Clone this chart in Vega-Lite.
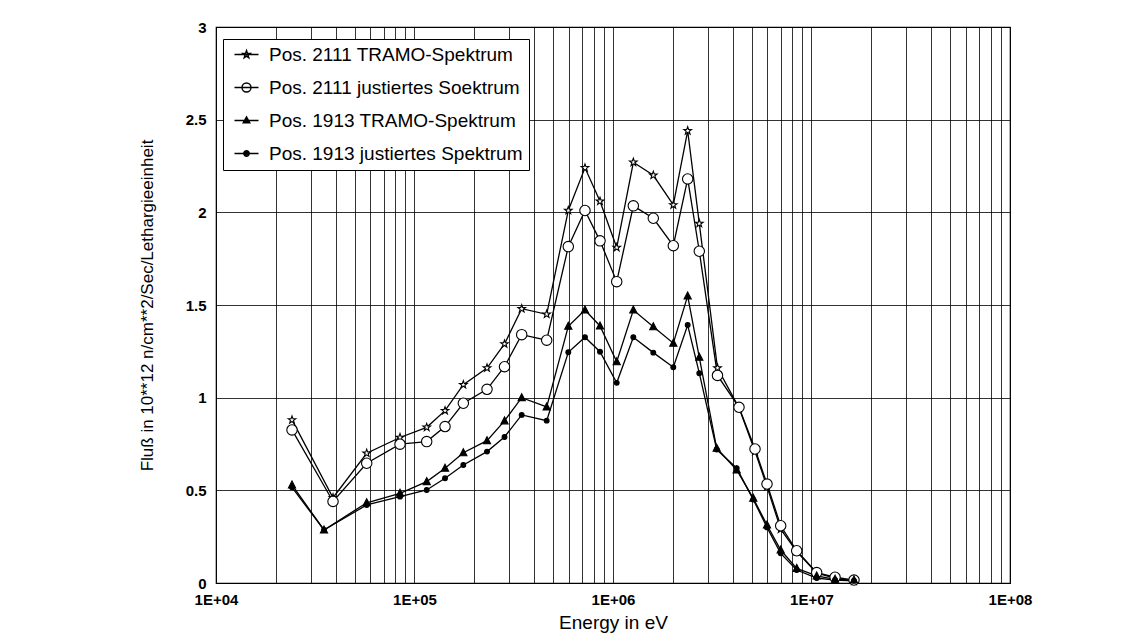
{
  "$schema": "https://vega.github.io/schema/vega-lite/v6.json",
  "width": 794,
  "height": 556,
  "autosize": {"type": "none"},
  "padding": {"left": 216, "top": 27, "right": 135, "bottom": 61},
  "background": "white",
  "config": {
    "font": "Liberation Sans",
    "view": {"stroke": "black", "strokeWidth": 1.2},
    "axis": {
      "gridColor": "#000",
      "gridOpacity": 0.8,
      "gridWidth": 1,
      "domain": false,
      "ticks": false,
      "labelColor": "#000",
      "titleColor": "#000",
      "labelFont": "Liberation Sans",
      "labelFontWeight": "bold",
      "labelFontSize": 15,
      "titleFont": "Liberation Sans",
      "titleFontWeight": "normal"
    },
    "legend": {
      "orient": "none",
      "legendX": 7,
      "legendY": 12,
      "fillColor": "white",
      "strokeColor": "black",
      "padding": 6,
      "symbolOffset": 8,
      "labelFont": "Liberation Sans",
      "labelFontSize": 19,
      "labelColor": "black",
      "rowPadding": 13,
      "labelOffset": 13,
      "labelLimit": 0,
      "symbolSize": 36,
      "symbolStrokeWidth": 1.4,
      "symbolStrokeColor": "black"
    }
  },
  "datasets": {
    "pts": [
      {"Serie": "Pos. 2111 TRAMO-Spektrum", "E": 24150, "Fluss": 0.88},
      {"Serie": "Pos. 2111 TRAMO-Spektrum", "E": 38860, "Fluss": 0.46},
      {"Serie": "Pos. 2111 TRAMO-Spektrum", "E": 57440, "Fluss": 0.70},
      {"Serie": "Pos. 2111 TRAMO-Spektrum", "E": 84530, "Fluss": 0.785},
      {"Serie": "Pos. 2111 TRAMO-Spektrum", "E": 115200, "Fluss": 0.84},
      {"Serie": "Pos. 2111 TRAMO-Spektrum", "E": 142500, "Fluss": 0.93},
      {"Serie": "Pos. 2111 TRAMO-Spektrum", "E": 176200, "Fluss": 1.07},
      {"Serie": "Pos. 2111 TRAMO-Spektrum", "E": 231900, "Fluss": 1.16},
      {"Serie": "Pos. 2111 TRAMO-Spektrum", "E": 284100, "Fluss": 1.29},
      {"Serie": "Pos. 2111 TRAMO-Spektrum", "E": 346800, "Fluss": 1.48},
      {"Serie": "Pos. 2111 TRAMO-Spektrum", "E": 463400, "Fluss": 1.45},
      {"Serie": "Pos. 2111 TRAMO-Spektrum", "E": 595400, "Fluss": 2.01},
      {"Serie": "Pos. 2111 TRAMO-Spektrum", "E": 722500, "Fluss": 2.24},
      {"Serie": "Pos. 2111 TRAMO-Spektrum", "E": 860100, "Fluss": 2.06},
      {"Serie": "Pos. 2111 TRAMO-Spektrum", "E": 1044000, "Fluss": 1.81},
      {"Serie": "Pos. 2111 TRAMO-Spektrum", "E": 1266000, "Fluss": 2.27},
      {"Serie": "Pos. 2111 TRAMO-Spektrum", "E": 1596000, "Fluss": 2.20},
      {"Serie": "Pos. 2111 TRAMO-Spektrum", "E": 2013000, "Fluss": 2.04},
      {"Serie": "Pos. 2111 TRAMO-Spektrum", "E": 2378000, "Fluss": 2.44},
      {"Serie": "Pos. 2111 TRAMO-Spektrum", "E": 2721000, "Fluss": 1.94},
      {"Serie": "Pos. 2111 TRAMO-Spektrum", "E": 3360000, "Fluss": 1.16},
      {"Serie": "Pos. 2111 TRAMO-Spektrum", "E": 4313000, "Fluss": 0.945},
      {"Serie": "Pos. 2111 TRAMO-Spektrum", "E": 5193000, "Fluss": 0.71},
      {"Serie": "Pos. 2111 TRAMO-Spektrum", "E": 5969000, "Fluss": 0.52},
      {"Serie": "Pos. 2111 TRAMO-Spektrum", "E": 6995000, "Fluss": 0.29},
      {"Serie": "Pos. 2111 TRAMO-Spektrum", "E": 8423000, "Fluss": 0.17},
      {"Serie": "Pos. 2111 TRAMO-Spektrum", "E": 10620000, "Fluss": 0.055},
      {"Serie": "Pos. 2111 TRAMO-Spektrum", "E": 13140000, "Fluss": 0.025},
      {"Serie": "Pos. 2111 TRAMO-Spektrum", "E": 16370000, "Fluss": 0.01},

      {"Serie": "Pos. 2111 justiertes Soektrum", "E": 24150, "Fluss": 0.826},
      {"Serie": "Pos. 2111 justiertes Soektrum", "E": 38860, "Fluss": 0.44},
      {"Serie": "Pos. 2111 justiertes Soektrum", "E": 57440, "Fluss": 0.646},
      {"Serie": "Pos. 2111 justiertes Soektrum", "E": 84530, "Fluss": 0.749},
      {"Serie": "Pos. 2111 justiertes Soektrum", "E": 115200, "Fluss": 0.763},
      {"Serie": "Pos. 2111 justiertes Soektrum", "E": 142500, "Fluss": 0.844},
      {"Serie": "Pos. 2111 justiertes Soektrum", "E": 176200, "Fluss": 0.97},
      {"Serie": "Pos. 2111 justiertes Soektrum", "E": 231900, "Fluss": 1.045},
      {"Serie": "Pos. 2111 justiertes Soektrum", "E": 284100, "Fluss": 1.167},
      {"Serie": "Pos. 2111 justiertes Soektrum", "E": 346800, "Fluss": 1.34},
      {"Serie": "Pos. 2111 justiertes Soektrum", "E": 463400, "Fluss": 1.31},
      {"Serie": "Pos. 2111 justiertes Soektrum", "E": 595400, "Fluss": 1.815},
      {"Serie": "Pos. 2111 justiertes Soektrum", "E": 722500, "Fluss": 2.01},
      {"Serie": "Pos. 2111 justiertes Soektrum", "E": 860100, "Fluss": 1.846},
      {"Serie": "Pos. 2111 justiertes Soektrum", "E": 1044000, "Fluss": 1.626},
      {"Serie": "Pos. 2111 justiertes Soektrum", "E": 1266000, "Fluss": 2.035},
      {"Serie": "Pos. 2111 justiertes Soektrum", "E": 1596000, "Fluss": 1.968},
      {"Serie": "Pos. 2111 justiertes Soektrum", "E": 2013000, "Fluss": 1.82},
      {"Serie": "Pos. 2111 justiertes Soektrum", "E": 2378000, "Fluss": 2.18},
      {"Serie": "Pos. 2111 justiertes Soektrum", "E": 2721000, "Fluss": 1.79},
      {"Serie": "Pos. 2111 justiertes Soektrum", "E": 3360000, "Fluss": 1.12},
      {"Serie": "Pos. 2111 justiertes Soektrum", "E": 4313000, "Fluss": 0.948},
      {"Serie": "Pos. 2111 justiertes Soektrum", "E": 5193000, "Fluss": 0.723},
      {"Serie": "Pos. 2111 justiertes Soektrum", "E": 5969000, "Fluss": 0.534},
      {"Serie": "Pos. 2111 justiertes Soektrum", "E": 6995000, "Fluss": 0.309},
      {"Serie": "Pos. 2111 justiertes Soektrum", "E": 8423000, "Fluss": 0.174},
      {"Serie": "Pos. 2111 justiertes Soektrum", "E": 10620000, "Fluss": 0.056},
      {"Serie": "Pos. 2111 justiertes Soektrum", "E": 13140000, "Fluss": 0.031},
      {"Serie": "Pos. 2111 justiertes Soektrum", "E": 16370000, "Fluss": 0.016},

      {"Serie": "Pos. 1913 TRAMO-Spektrum", "E": 24150, "Fluss": 0.529},
      {"Serie": "Pos. 1913 TRAMO-Spektrum", "E": 35000, "Fluss": 0.286},
      {"Serie": "Pos. 1913 TRAMO-Spektrum", "E": 57440, "Fluss": 0.433},
      {"Serie": "Pos. 1913 TRAMO-Spektrum", "E": 84530, "Fluss": 0.484},
      {"Serie": "Pos. 1913 TRAMO-Spektrum", "E": 115200, "Fluss": 0.547},
      {"Serie": "Pos. 1913 TRAMO-Spektrum", "E": 142500, "Fluss": 0.619},
      {"Serie": "Pos. 1913 TRAMO-Spektrum", "E": 176200, "Fluss": 0.703},
      {"Serie": "Pos. 1913 TRAMO-Spektrum", "E": 231900, "Fluss": 0.768},
      {"Serie": "Pos. 1913 TRAMO-Spektrum", "E": 284100, "Fluss": 0.875},
      {"Serie": "Pos. 1913 TRAMO-Spektrum", "E": 346800, "Fluss": 1.0},
      {"Serie": "Pos. 1913 TRAMO-Spektrum", "E": 463400, "Fluss": 0.95},
      {"Serie": "Pos. 1913 TRAMO-Spektrum", "E": 595400, "Fluss": 1.385},
      {"Serie": "Pos. 1913 TRAMO-Spektrum", "E": 722500, "Fluss": 1.473},
      {"Serie": "Pos. 1913 TRAMO-Spektrum", "E": 860100, "Fluss": 1.387},
      {"Serie": "Pos. 1913 TRAMO-Spektrum", "E": 1044000, "Fluss": 1.194},
      {"Serie": "Pos. 1913 TRAMO-Spektrum", "E": 1266000, "Fluss": 1.473},
      {"Serie": "Pos. 1913 TRAMO-Spektrum", "E": 1596000, "Fluss": 1.383},
      {"Serie": "Pos. 1913 TRAMO-Spektrum", "E": 2013000, "Fluss": 1.294},
      {"Serie": "Pos. 1913 TRAMO-Spektrum", "E": 2378000, "Fluss": 1.549},
      {"Serie": "Pos. 1913 TRAMO-Spektrum", "E": 2721000, "Fluss": 1.218},
      {"Serie": "Pos. 1913 TRAMO-Spektrum", "E": 3330000, "Fluss": 0.727},
      {"Serie": "Pos. 1913 TRAMO-Spektrum", "E": 4200000, "Fluss": 0.61},
      {"Serie": "Pos. 1913 TRAMO-Spektrum", "E": 5090000, "Fluss": 0.457},
      {"Serie": "Pos. 1913 TRAMO-Spektrum", "E": 5969000, "Fluss": 0.313},
      {"Serie": "Pos. 1913 TRAMO-Spektrum", "E": 6995000, "Fluss": 0.178},
      {"Serie": "Pos. 1913 TRAMO-Spektrum", "E": 8423000, "Fluss": 0.079},
      {"Serie": "Pos. 1913 TRAMO-Spektrum", "E": 10620000, "Fluss": 0.038},
      {"Serie": "Pos. 1913 TRAMO-Spektrum", "E": 13140000, "Fluss": 0.02},
      {"Serie": "Pos. 1913 TRAMO-Spektrum", "E": 16370000, "Fluss": 0.016},

      {"Serie": "Pos. 1913 justiertes Spektrum", "E": 24150, "Fluss": 0.516},
      {"Serie": "Pos. 1913 justiertes Spektrum", "E": 35000, "Fluss": 0.286},
      {"Serie": "Pos. 1913 justiertes Spektrum", "E": 57440, "Fluss": 0.421},
      {"Serie": "Pos. 1913 justiertes Spektrum", "E": 84530, "Fluss": 0.466},
      {"Serie": "Pos. 1913 justiertes Spektrum", "E": 115200, "Fluss": 0.502},
      {"Serie": "Pos. 1913 justiertes Spektrum", "E": 142500, "Fluss": 0.565},
      {"Serie": "Pos. 1913 justiertes Spektrum", "E": 176200, "Fluss": 0.637},
      {"Serie": "Pos. 1913 justiertes Spektrum", "E": 231900, "Fluss": 0.709},
      {"Serie": "Pos. 1913 justiertes Spektrum", "E": 284100, "Fluss": 0.788},
      {"Serie": "Pos. 1913 justiertes Spektrum", "E": 346800, "Fluss": 0.907},
      {"Serie": "Pos. 1913 justiertes Spektrum", "E": 463400, "Fluss": 0.876},
      {"Serie": "Pos. 1913 justiertes Spektrum", "E": 595400, "Fluss": 1.245},
      {"Serie": "Pos. 1913 justiertes Spektrum", "E": 722500, "Fluss": 1.326},
      {"Serie": "Pos. 1913 justiertes Spektrum", "E": 860100, "Fluss": 1.248},
      {"Serie": "Pos. 1913 justiertes Spektrum", "E": 1044000, "Fluss": 1.08},
      {"Serie": "Pos. 1913 justiertes Spektrum", "E": 1266000, "Fluss": 1.326},
      {"Serie": "Pos. 1913 justiertes Spektrum", "E": 1596000, "Fluss": 1.243},
      {"Serie": "Pos. 1913 justiertes Spektrum", "E": 2013000, "Fluss": 1.164},
      {"Serie": "Pos. 1913 justiertes Spektrum", "E": 2378000, "Fluss": 1.392},
      {"Serie": "Pos. 1913 justiertes Spektrum", "E": 2721000, "Fluss": 1.132},
      {"Serie": "Pos. 1913 justiertes Spektrum", "E": 3330000, "Fluss": 0.72},
      {"Serie": "Pos. 1913 justiertes Spektrum", "E": 4200000, "Fluss": 0.62},
      {"Serie": "Pos. 1913 justiertes Spektrum", "E": 5090000, "Fluss": 0.45},
      {"Serie": "Pos. 1913 justiertes Spektrum", "E": 5969000, "Fluss": 0.30},
      {"Serie": "Pos. 1913 justiertes Spektrum", "E": 6995000, "Fluss": 0.16},
      {"Serie": "Pos. 1913 justiertes Spektrum", "E": 8423000, "Fluss": 0.07},
      {"Serie": "Pos. 1913 justiertes Spektrum", "E": 10620000, "Fluss": 0.027},
      {"Serie": "Pos. 1913 justiertes Spektrum", "E": 13140000, "Fluss": 0.016},
      {"Serie": "Pos. 1913 justiertes Spektrum", "E": 16370000, "Fluss": 0.012}
    ]
  },
  "data": {"name": "pts"},
  "encoding": {
    "x": {
      "field": "E",
      "type": "quantitative",
      "scale": {"type": "log", "domain": [10000, 100000000]},
      "axis": {
        "values": [10000, 20000, 30000, 40000, 50000, 60000, 70000, 80000, 90000,
                   100000, 200000, 300000, 400000, 500000, 600000, 700000, 800000, 900000,
                   1000000, 2000000, 3000000, 4000000, 5000000, 6000000, 7000000, 8000000, 9000000,
                   10000000, 20000000, 30000000, 40000000, 50000000, 60000000, 70000000, 80000000, 90000000,
                   100000000],
        "labelExpr": "abs(log(datum.value)/LN10 - round(log(datum.value)/LN10)) < 0.001 ? '1E+0' + round(log(datum.value)/LN10) : ''",
        "labelOverlap": false,
        "labelFlush": false,
        "labelPadding": 9,
        "title": "Energy in eV",
        "titleFontSize": 19,
        "titlePadding": 6
      }
    },
    "y": {
      "field": "Fluss",
      "type": "quantitative",
      "scale": {"domain": [0, 3]},
      "axis": {
        "values": [0, 0.5, 1, 1.5, 2, 2.5, 3],
        "format": "~g",
        "labelOverlap": false,
        "labelFlush": false,
        "labelPadding": 10,
        "title": "Fluß in 10**12 n/cm**2/Sec/Lethargieeinheit",
        "titleFontSize": 17,
        "titlePadding": 29
      }
    }
  },
  "layer": [
    {
      "mark": {"type": "line", "color": "black", "strokeWidth": 1.3},
      "encoding": {"detail": {"field": "Serie", "type": "nominal"}}
    },
    {
      "mark": {"type": "point", "filled": true, "stroke": "black", "strokeWidth": 1.1, "opacity": 1, "size": 64},
      "encoding": {
        "shape": {
          "field": "Serie", "type": "nominal", "legend": null,
          "scale": {
            "domain": ["Pos. 2111 TRAMO-Spektrum", "Pos. 2111 justiertes Soektrum", "Pos. 1913 TRAMO-Spektrum", "Pos. 1913 justiertes Spektrum"],
            "range": [
              "M0,-1L0.235,-0.324L0.951,-0.309L0.38,0.124L0.588,0.809L0,0.4L-0.588,0.809L-0.38,0.124L-0.951,-0.309L-0.235,-0.324Z",
              "M-1.3,0A1.3,1.3,0,1,1,1.3,0A1.3,1.3,0,1,1,-1.3,0Z",
              "M0,-1L0.9,0.75L-0.9,0.75Z",
              "M-0.6,0A0.6,0.6,0,1,1,0.6,0A0.6,0.6,0,1,1,-0.6,0Z"
            ]
          }
        },
        "fill": {
          "field": "Serie", "type": "nominal", "legend": null,
          "scale": {
            "domain": ["Pos. 2111 TRAMO-Spektrum", "Pos. 2111 justiertes Soektrum", "Pos. 1913 TRAMO-Spektrum", "Pos. 1913 justiertes Spektrum"],
            "range": ["white", "white", "black", "black"]
          }
        }
      }
    },
    {
      "transform": [{"filter": "false"}],
      "mark": {"type": "point", "filled": false, "color": "black", "strokeWidth": 1.4, "size": 36, "opacity": 1},
      "encoding": {
        "shape": {
          "field": "Serie", "type": "nominal", "title": null,
          "scale": {
            "domain": ["Pos. 2111 TRAMO-Spektrum", "Pos. 2111 justiertes Soektrum", "Pos. 1913 TRAMO-Spektrum", "Pos. 1913 justiertes Spektrum"],
            "range": [
              "M-4,0H4M0,-1.3L0.3,-0.42L1.24,-0.4L0.49,0.16L0.76,1.05L0,0.52L-0.76,1.05L-0.49,0.16L-1.24,-0.4L-0.3,-0.42Z",
              "M-4,0H4M-1.5,0A1.5,1.5,0,1,1,1.5,0A1.5,1.5,0,1,1,-1.5,0Z",
              "M-4,0H4M0,-1.2L1.1,0.8L-1.1,0.8ZM0,-0.7L0.6,0.45L-0.6,0.45ZM0,-0.25L0.2,0.15L-0.2,0.15Z",
              "M-4,0H4M-0.9,0A0.9,0.9,0,1,1,0.9,0A0.9,0.9,0,1,1,-0.9,0ZM-0.45,0A0.45,0.45,0,1,1,0.45,0A0.45,0.45,0,1,1,-0.45,0Z"
            ]
          }
        }
      }
    }
  ],
  "resolve": {"scale": {"shape": "independent", "fill": "independent"}}
}
